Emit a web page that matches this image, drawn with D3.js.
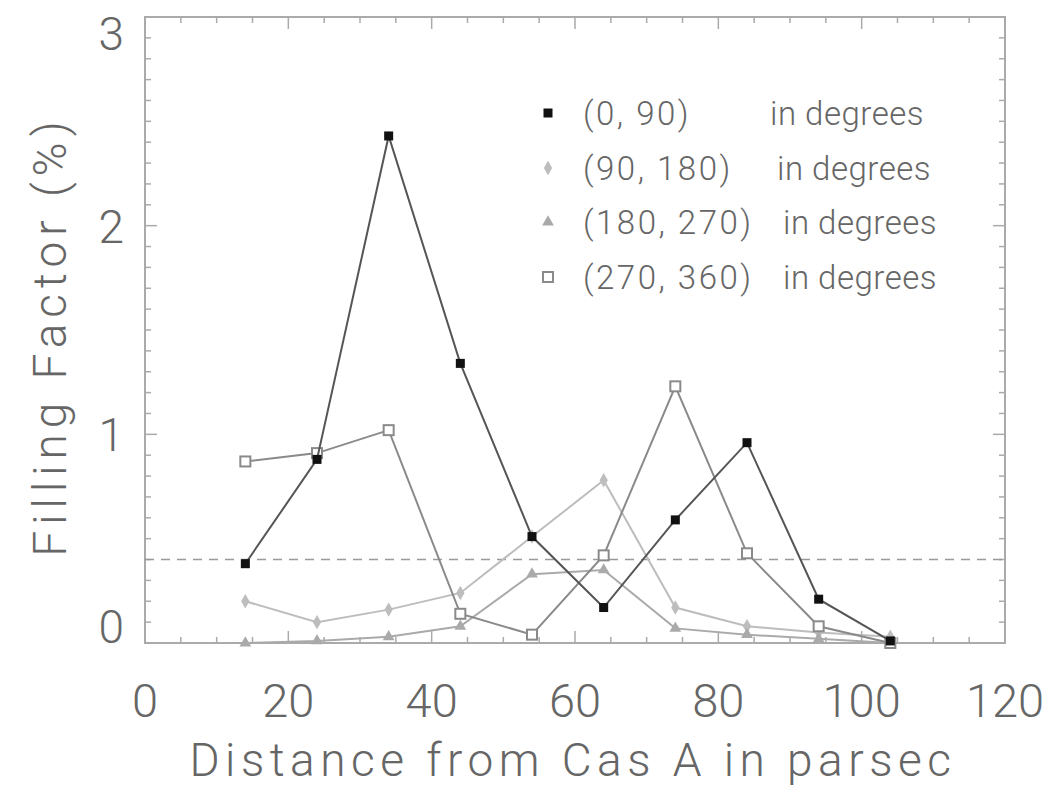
<!DOCTYPE html>
<html><head><meta charset="utf-8">
<script src="https://cdn.jsdelivr.net/npm/d3@7"></script>
<style>body{margin:0;background:#fff}svg{display:block}</style>
</head><body>
<svg id="c" width="1061" height="795"></svg>
<script>
const distances = [14, 24, 34, 44, 54, 64, 74, 84, 94, 104];
const s0_90    = [0.38, 0.88, 2.43, 1.34, 0.51, 0.17, 0.59, 0.96, 0.21, 0.01];
const s90_180  = [0.20, 0.10, 0.16, 0.24, 0.51, 0.78, 0.17, 0.08, 0.05, 0.03];
const s180_270 = [0.00, 0.01, 0.03, 0.08, 0.33, 0.35, 0.07, 0.04, 0.02, 0.00];
const s270_360 = [0.87, 0.91, 1.02, 0.14, 0.04, 0.42, 1.23, 0.43, 0.08, 0.00];
const legendLabels = ["(0, 90)", "(90, 180)", "(180, 270)", "(270, 360)"];
const xTicks = [0, 20, 40, 60, 80, 100, 120];
const yTicks = [0, 1, 2, 3];
const threshold = 0.40;

const svg = d3.select("#c");
const L = 145, R = 1005, T = 17, B = 643;
const x = d3.scaleLinear().domain([0, 120]).range([L, R]);
const y = d3.scaleLinear().domain([0, 3]).range([B, T]);
const frameCol = "#aaa", textCol = "#666";
const font = "Roboto, 'DejaVu Sans', sans-serif";

// frame
svg.append("rect").attr("x", L).attr("y", T).attr("width", R - L).attr("height", B - T)
  .attr("fill", "none").attr("stroke", frameCol).attr("stroke-width", 2);

// ticks on all sides
const g = svg.append("g").attr("stroke", frameCol).attr("stroke-width", 1.5);
d3.range(0, 121, 5).forEach(v => {
  const len = v % 20 === 0 ? 12 : 6;
  g.append("line").attr("x1", x(v)).attr("x2", x(v)).attr("y1", B).attr("y2", B - len);
  g.append("line").attr("x1", x(v)).attr("x2", x(v)).attr("y1", T).attr("y2", T + len);
});
d3.range(0, 31).forEach(i => {
  const v = i / 10, len = i % 10 === 0 ? 12 : 6;
  g.append("line").attr("y1", y(v)).attr("y2", y(v)).attr("x1", L).attr("x2", L + len);
  g.append("line").attr("y1", y(v)).attr("y2", y(v)).attr("x1", R).attr("x2", R - len);
});

// tick labels
svg.append("g").selectAll("text").data(xTicks).join("text")
  .attr("x", d => x(d)).attr("y", 717).attr("text-anchor", "middle")
  .attr("font-family", font).attr("font-weight", 300).attr("font-size", 47)
  .attr("fill", textCol).text(d => d);
svg.append("g").selectAll("text").data(yTicks).join("text")
  .attr("x", 124)
  .attr("y", d => d === 0 ? y(d) : (d === 3 ? y(d) + 33 : y(d) + 17))
  .attr("text-anchor", "end")
  .attr("font-family", font).attr("font-weight", 300).attr("font-size", 46)
  .attr("fill", textCol).text(d => d);

// axis titles
svg.append("text").attr("x", 573).attr("y", 776).attr("text-anchor", "middle")
  .attr("font-family", font).attr("font-weight", 300).attr("font-size", 46)
  .attr("letter-spacing", 5.5).attr("fill", textCol).text("Distance from Cas A in parsec");
svg.append("text").attr("transform", "translate(66,336) rotate(-90)").attr("text-anchor", "middle")
  .attr("font-family", font).attr("font-weight", 300).attr("font-size", 46)
  .attr("letter-spacing", 6).attr("fill", textCol).text("Filling Factor (%)");

// threshold dashed line
svg.append("line").attr("x1", L).attr("x2", R).attr("y1", y(threshold)).attr("y2", y(threshold))
  .attr("stroke", "#999").attr("stroke-width", 1.5).attr("stroke-dasharray", "9,7");

const series = [
  {vals: s90_180,  col: "#bdbdbd", marker: "diamond"},
  {vals: s180_270, col: "#aaaaaa", marker: "triangle"},
  {vals: s270_360, col: "#8a8a8a", marker: "open"},
  {vals: s0_90,    col: "#555555", marker: "filled"}
];
const line = d3.line().x(d => x(d[0])).y(d => y(d[1]));

function drawMarker(sel, type, col, cx, cy) {
  if (type === "filled") {
    sel.append("rect").attr("x", cx - 4.5).attr("y", cy - 4.5).attr("width", 9).attr("height", 9).attr("fill", "#111");
  } else if (type === "open") {
    sel.append("rect").attr("x", cx - 5).attr("y", cy - 5).attr("width", 10).attr("height", 10)
      .attr("fill", "#fff").attr("stroke", col).attr("stroke-width", 2);
  } else if (type === "diamond") {
    sel.append("path").attr("d", d3.symbol(d3.symbolDiamond, 60)()).attr("transform", `translate(${cx},${cy})`).attr("fill", col);
  } else {
    sel.append("path").attr("d", d3.symbol(d3.symbolTriangle, 60)()).attr("transform", `translate(${cx},${cy})`).attr("fill", col);
  }
}

series.forEach(s => {
  const pts = distances.map((d, i) => [d, s.vals[i]]);
  svg.append("path").attr("d", line(pts)).attr("fill", "none").attr("stroke", s.col).attr("stroke-width", 2);
  const mg = svg.append("g");
  pts.forEach(p => drawMarker(mg, s.marker, s.col, x(p[0]), y(p[1])));
});

// legend
const legRows = [113, 168, 222, 277];
const legMarkers = ["filled", "diamond", "triangle", "open"];
const legCols = ["#555", "#bdbdbd", "#aaa", "#8a8a8a"];
const degX = [770, 777, 783, 783];
legendLabels.forEach((lab, i) => {
  const lg = svg.append("g");
  drawMarker(lg, legMarkers[i], legCols[i], 548, legRows[i]);
  lg.append("text").attr("x", 583).attr("y", legRows[i] + 12).attr("font-family", font).attr("font-weight", 300)
    .attr("font-size", 33).attr("letter-spacing", 2.5).attr("fill", textCol).text(lab);
  lg.append("text").attr("x", degX[i]).attr("y", legRows[i] + 12).attr("font-family", font).attr("font-weight", 300)
    .attr("font-size", 33).attr("letter-spacing", 0.5).attr("fill", textCol).text("in degrees");
});
</script>
</body></html>
